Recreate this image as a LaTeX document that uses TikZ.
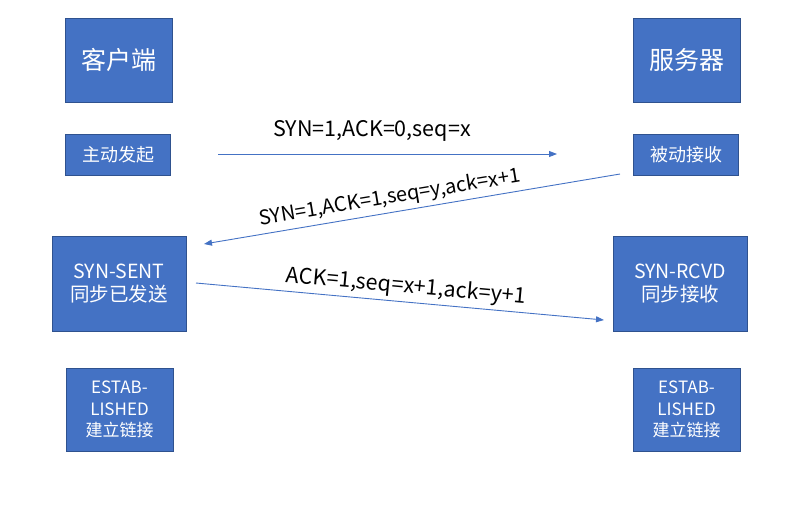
\documentclass[tikz,border=0pt]{standalone}
\usepackage{fontspec}
\setmainfont{Noto Sans CJK SC}
\usepackage{xcolor}
\usetikzlibrary{arrows.meta, positioning}

\definecolor{boxblue}{HTML}{4472C4}
\definecolor{boxedge}{HTML}{2F528F}
\definecolor{msgblue}{HTML}{4472C4}

\begin{document}
\begin{tikzpicture}[
    x=1pt, y=-1pt,
    base/.style={draw=boxedge, fill=boxblue, text=white, line width=1pt,
      align=center, inner sep=0pt},
    titlebox/.style={base, minimum width=107pt, minimum height=84pt,
      font=\fontsize{25}{30}\selectfont},
    smallbox/.style={base, minimum width=105pt, minimum height=41pt,
      font=\fontsize{18}{21}\selectfont},
    statebox/.style={base, minimum width=134pt, minimum height=95pt,
      font=\fontsize{19.5}{23}\selectfont},
    estbox/.style={base, minimum width=107pt, minimum height=83pt,
      font=\fontsize{17}{21.5}\selectfont},
    msg/.style={draw=msgblue, line width=0.9pt, -{Triangle[length=8pt,width=6pt]}},
    msglabel/.style={font=\fontsize{21.5}{25}\selectfont, text=black}
]
\useasboundingbox (0,0) rectangle (789,509);

% client side
\node[titlebox] (client) at (118.5,60) {客户端};
\node[smallbox] (cinit) at (118,154.5) {主动发起};
\node[statebox] (csent) at (119,283.5) {SYN-SENT\\同步已发送};
\node[estbox] (cest) at (119.5,409.5) {ESTAB-\\LISHED\\建立链接};

% server side
\node[titlebox] (server) at (686.5,60) {服务器};
\node[smallbox] (sinit) at (686,154.5) {被动接收};
\node[statebox] (srcvd) at (680,283.5) {SYN-RCVD\\同步接收};
\node[estbox] (sest) at (686.5,409.5) {ESTAB-\\LISHED\\建立链接};

% message end points
\coordinate (m1a) at (218,154);
\coordinate (m1b) at (557,154);
\coordinate (m2a) at (620,174);
\coordinate (m2b) at (204,244);
\coordinate (m3a) at (196,283);
\coordinate (m3b) at (604,320);

\draw[msg] (m1a) -- (m1b);
\node[msglabel] (lab1) at (372,131) {SYN=1,ACK=0,seq=x};

\draw[msg] (m2a) -- (m2b);
\node[msglabel, font=\fontsize{20}{24}\selectfont, rotate=9.5] (lab2) at (390,198) {SYN=1,ACK=1,seq=y,ack=x+1};

\draw[msg] (m3a) -- (m3b);
\node[msglabel, rotate=-5.2] (lab3) at (406,287) {ACK=1,seq=x+1,ack=y+1};
\end{tikzpicture}
\end{document}
